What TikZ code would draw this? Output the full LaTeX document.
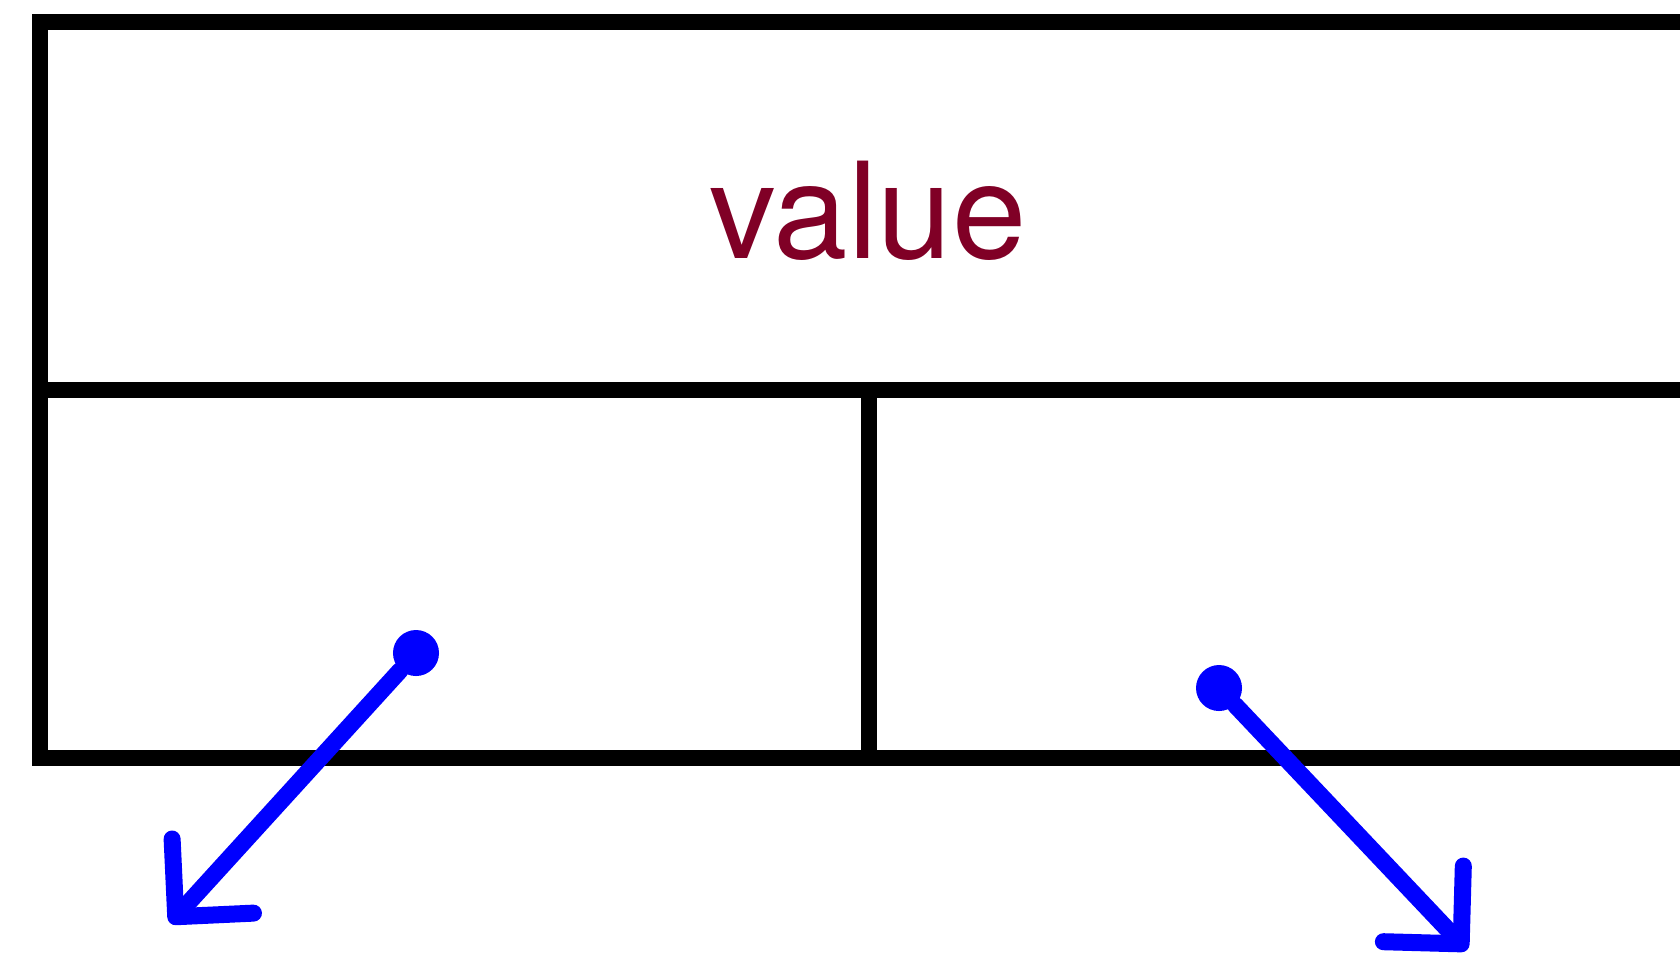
\documentclass[tikz,border=0pt]{standalone}
\usepackage{fontspec}
\setmainfont{TeX Gyre Heros}
\usetikzlibrary{arrows.meta}
\definecolor{valred}{RGB}{128,0,38}
\tikzset{
  frame/.style={line width=0.16cm, line cap=rect},
  ptr/.style={draw=blue, line width=0.17cm, line cap=round, line join=round, -{Straight Barb[round,length=0.55cm,width=1.1cm]}},
  blob/.style={circle, fill=blue, inner sep=0pt, minimum size=0.46cm}
}

\begin{document}
\begin{tikzpicture}[x=0.01cm, y=-0.01cm]
    \useasboundingbox (0,0) rectangle (1680,963);
    \clip (0,0) rectangle (1680,963);
    % record: value on top, two pointers below
    \draw[frame] (1700,22) -- (40,22) -- (40,758) -- (1700,758);
    \draw[frame] (40,390) -- (1700,390);
    \draw[frame] (869,390) -- (869,758);
    \node[anchor=base, text=valred, font=\fontsize{38}{40}\selectfont] (val) at (868,258) {value};
    % pointers
    \node[blob] (lptr) at (416,653) {};
    \node[blob] (rptr) at (1219,688) {};
    \coordinate (lnext) at (170,923);
    \coordinate (rnext) at (1467,950);
    \draw[ptr] (lptr) -- (lnext);
    \draw[ptr] (rptr) -- (rnext);
\end{tikzpicture}
\end{document}
